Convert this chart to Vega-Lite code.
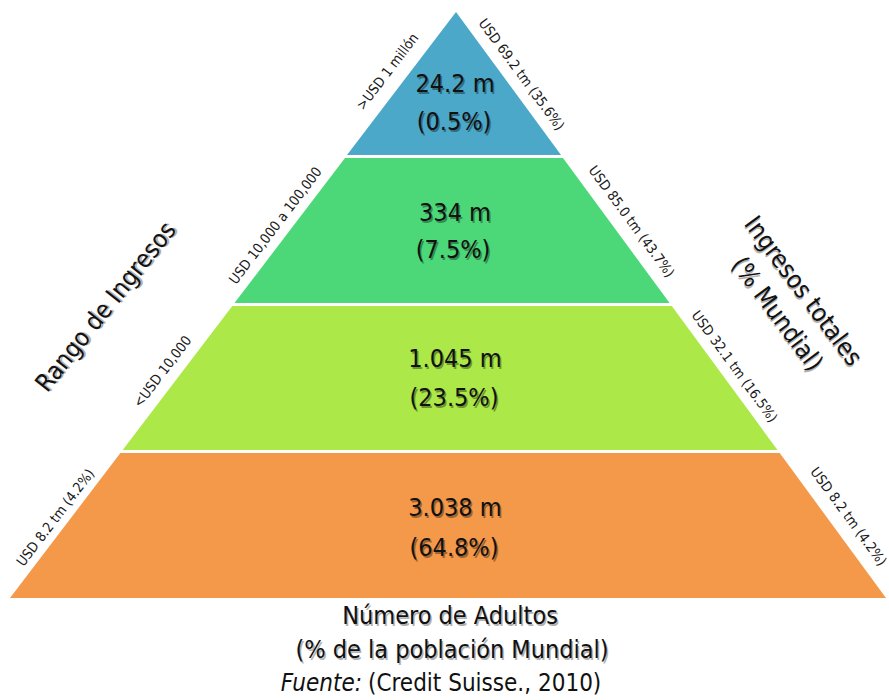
{
  "$schema": "https://vega.github.io/schema/vega-lite/v6.json",
  "width": 889,
  "height": 700,
  "autosize": {"type": "fit", "contains": "padding"},
  "padding": 0,
  "background": "white",
  "config": {"view": {"stroke": null}},
  "datasets": {
    "niveles": [
      {"nivel": ">USD 1 millón", "y": 12, "xl": 456, "xr": 456},
      {"nivel": ">USD 1 millón", "y": 155, "xl": 347, "xr": 561},
      {"nivel": "USD 10,000 a 100,000", "y": 158, "xl": 345, "xr": 563},
      {"nivel": "USD 10,000 a 100,000", "y": 303, "xl": 234.5, "xr": 669.6},
      {"nivel": "<USD 10,000", "y": 306, "xl": 232.3, "xr": 671.8},
      {"nivel": "<USD 10,000", "y": 450, "xl": 122.7, "xr": 777.5},
      {"nivel": "base", "y": 453, "xl": 120.4, "xr": 779.7},
      {"nivel": "base", "y": 598, "xl": 10, "xr": 886}
    ],
    "textos": [
      {"rol": "cifra", "x": 455, "y": 84, "texto": "24.2 m"},
      {"rol": "cifra", "x": 454, "y": 122, "texto": "(0.5%)"},
      {"rol": "cifra", "x": 455, "y": 213, "texto": "334 m"},
      {"rol": "cifra", "x": 453, "y": 250, "texto": "(7.5%)"},
      {"rol": "cifra", "x": 455, "y": 359, "texto": "1.045 m"},
      {"rol": "cifra", "x": 454, "y": 398, "texto": "(23.5%)"},
      {"rol": "cifra", "x": 455, "y": 508, "texto": "3.038 m"},
      {"rol": "cifra", "x": 454, "y": 548, "texto": "(64.8%)"},
      {"rol": "rango", "x": 388, "y": 72, "texto": ">USD 1 millón"},
      {"rol": "rango", "x": 276, "y": 226, "texto": "USD 10,000 a 100,000"},
      {"rol": "rango", "x": 163, "y": 372, "texto": "<USD 10,000"},
      {"rol": "rango", "x": 56, "y": 518, "texto": "USD 8.2 tm (4.2%)"},
      {"rol": "riqueza", "x": 521, "y": 75, "texto": "USD 69.2 tm (35.6%)"},
      {"rol": "riqueza", "x": 631, "y": 222, "texto": "USD 85.0 tm (43.7%)"},
      {"rol": "riqueza", "x": 734, "y": 367, "texto": "USD 32.1 tm (16.5%)"},
      {"rol": "riqueza", "x": 848, "y": 517, "texto": "USD 8.2 tm (4.2%)"},
      {"rol": "tituloIzq", "x": 106, "y": 307, "texto": "Rango de Ingresos"},
      {"rol": "tituloDer", "x": 803, "y": 291, "texto": "Ingresos totales"},
      {"rol": "tituloDer", "x": 777, "y": 314, "texto": "(% Mundial)"},
      {"rol": "pie", "x": 450, "y": 616, "texto": "Número de Adultos"},
      {"rol": "pie", "x": 452, "y": 650, "texto": "(% de la población Mundial)"},
      {"rol": "fuenteIt", "x": 362, "y": 684, "texto": "Fuente:"},
      {"rol": "fuente", "x": 368, "y": 684, "texto": "(Credit Suisse., 2010)"}
    ]
  },
  "layer": [
    {
      "data": {"name": "niveles"},
      "mark": {"type": "area", "orient": "horizontal", "interpolate": "linear", "opacity": 1},
      "encoding": {
        "y": {"field": "y", "type": "quantitative", "scale": {"domain": [0, 700], "reverse": true, "nice": false, "zero": false}, "axis": null},
        "x": {"field": "xl", "type": "quantitative", "stack": null, "scale": {"domain": [0, 889], "nice": false, "zero": false}, "axis": null},
        "x2": {"field": "xr"},
        "color": {
          "field": "nivel", "type": "nominal", "legend": null,
          "scale": {"domain": [">USD 1 millón", "USD 10,000 a 100,000", "<USD 10,000", "base"], "range": ["#4ba8c8", "#4cd879", "#ace848", "#f4984a"]}
        }
      }
    },
    {
      "data": {"name": "textos"},
      "transform": [{"filter": "datum.rol === 'cifra'"}],
      "mark": {"type": "text", "font": "DejaVu Sans Condensed, DejaVu Sans, sans-serif", "fontSize": 25, "align": "center", "baseline": "middle", "fill": "#000000", "opacity": 0.35, "dx": 1.5, "dy": 1.5},
      "encoding": {
        "x": {"field": "x", "type": "quantitative", "scale": {"domain": [0, 889], "nice": false, "zero": false}, "axis": null},
        "y": {"field": "y", "type": "quantitative", "scale": {"domain": [0, 700], "reverse": true, "nice": false, "zero": false}, "axis": null},
        "text": {"field": "texto"}
      }
    },
    {
      "data": {"name": "textos"},
      "transform": [{"filter": "datum.rol === 'cifra'"}],
      "mark": {"type": "text", "font": "DejaVu Sans Condensed, DejaVu Sans, sans-serif", "fontSize": 25, "align": "center", "baseline": "middle", "fill": "#111111"},
      "encoding": {
        "x": {"field": "x", "type": "quantitative", "scale": {"domain": [0, 889], "nice": false, "zero": false}, "axis": null},
        "y": {"field": "y", "type": "quantitative", "scale": {"domain": [0, 700], "reverse": true, "nice": false, "zero": false}, "axis": null},
        "text": {"field": "texto"}
      }
    },
    {
      "data": {"name": "textos"},
      "transform": [{"filter": "datum.rol === 'rango'"}],
      "mark": {"type": "text", "font": "DejaVu Sans Condensed, DejaVu Sans, sans-serif", "fontSize": 14, "align": "center", "baseline": "middle", "angle": -52.7, "fill": "#1a1a1a"},
      "encoding": {
        "x": {"field": "x", "type": "quantitative", "scale": {"domain": [0, 889], "nice": false, "zero": false}, "axis": null},
        "y": {"field": "y", "type": "quantitative", "scale": {"domain": [0, 700], "reverse": true, "nice": false, "zero": false}, "axis": null},
        "text": {"field": "texto"}
      }
    },
    {
      "data": {"name": "textos"},
      "transform": [{"filter": "datum.rol === 'riqueza'"}],
      "mark": {"type": "text", "font": "DejaVu Sans Condensed, DejaVu Sans, sans-serif", "fontSize": 14, "align": "center", "baseline": "middle", "angle": 53.7, "fill": "#1a1a1a"},
      "encoding": {
        "x": {"field": "x", "type": "quantitative", "scale": {"domain": [0, 889], "nice": false, "zero": false}, "axis": null},
        "y": {"field": "y", "type": "quantitative", "scale": {"domain": [0, 700], "reverse": true, "nice": false, "zero": false}, "axis": null},
        "text": {"field": "texto"}
      }
    },
    {
      "data": {"name": "textos"},
      "transform": [{"filter": "datum.rol === 'tituloIzq'"}],
      "mark": {"type": "text", "font": "DejaVu Sans Condensed, DejaVu Sans, sans-serif", "fontSize": 25, "align": "center", "baseline": "middle", "angle": -51.5, "fill": "#000000", "opacity": 0.3, "dx": 1.5, "dy": 1.5},
      "encoding": {
        "x": {"field": "x", "type": "quantitative", "scale": {"domain": [0, 889], "nice": false, "zero": false}, "axis": null},
        "y": {"field": "y", "type": "quantitative", "scale": {"domain": [0, 700], "reverse": true, "nice": false, "zero": false}, "axis": null},
        "text": {"field": "texto"}
      }
    },
    {
      "data": {"name": "textos"},
      "transform": [{"filter": "datum.rol === 'tituloIzq'"}],
      "mark": {"type": "text", "font": "DejaVu Sans Condensed, DejaVu Sans, sans-serif", "fontSize": 25, "align": "center", "baseline": "middle", "angle": -51.5, "fill": "#111111"},
      "encoding": {
        "x": {"field": "x", "type": "quantitative", "scale": {"domain": [0, 889], "nice": false, "zero": false}, "axis": null},
        "y": {"field": "y", "type": "quantitative", "scale": {"domain": [0, 700], "reverse": true, "nice": false, "zero": false}, "axis": null},
        "text": {"field": "texto"}
      }
    },
    {
      "data": {"name": "textos"},
      "transform": [{"filter": "datum.rol === 'tituloDer'"}],
      "mark": {"type": "text", "font": "DejaVu Sans Condensed, DejaVu Sans, sans-serif", "fontSize": 25, "align": "center", "baseline": "middle", "angle": 53.4, "fill": "#000000", "opacity": 0.3, "dx": 1.5, "dy": 1.5},
      "encoding": {
        "x": {"field": "x", "type": "quantitative", "scale": {"domain": [0, 889], "nice": false, "zero": false}, "axis": null},
        "y": {"field": "y", "type": "quantitative", "scale": {"domain": [0, 700], "reverse": true, "nice": false, "zero": false}, "axis": null},
        "text": {"field": "texto"}
      }
    },
    {
      "data": {"name": "textos"},
      "transform": [{"filter": "datum.rol === 'tituloDer'"}],
      "mark": {"type": "text", "font": "DejaVu Sans Condensed, DejaVu Sans, sans-serif", "fontSize": 25, "align": "center", "baseline": "middle", "angle": 53.4, "fill": "#111111"},
      "encoding": {
        "x": {"field": "x", "type": "quantitative", "scale": {"domain": [0, 889], "nice": false, "zero": false}, "axis": null},
        "y": {"field": "y", "type": "quantitative", "scale": {"domain": [0, 700], "reverse": true, "nice": false, "zero": false}, "axis": null},
        "text": {"field": "texto"}
      }
    },
    {
      "data": {"name": "textos"},
      "transform": [{"filter": "datum.rol === 'pie'"}],
      "mark": {"type": "text", "font": "DejaVu Sans Condensed, DejaVu Sans, sans-serif", "fontSize": 25, "align": "center", "baseline": "middle", "fill": "#000000", "opacity": 0.3, "dx": 1.5, "dy": 1.5},
      "encoding": {
        "x": {"field": "x", "type": "quantitative", "scale": {"domain": [0, 889], "nice": false, "zero": false}, "axis": null},
        "y": {"field": "y", "type": "quantitative", "scale": {"domain": [0, 700], "reverse": true, "nice": false, "zero": false}, "axis": null},
        "text": {"field": "texto"}
      }
    },
    {
      "data": {"name": "textos"},
      "transform": [{"filter": "datum.rol === 'pie'"}],
      "mark": {"type": "text", "font": "DejaVu Sans Condensed, DejaVu Sans, sans-serif", "fontSize": 25, "align": "center", "baseline": "middle", "fill": "#111111"},
      "encoding": {
        "x": {"field": "x", "type": "quantitative", "scale": {"domain": [0, 889], "nice": false, "zero": false}, "axis": null},
        "y": {"field": "y", "type": "quantitative", "scale": {"domain": [0, 700], "reverse": true, "nice": false, "zero": false}, "axis": null},
        "text": {"field": "texto"}
      }
    },
    {
      "data": {"name": "textos"},
      "transform": [{"filter": "datum.rol === 'fuenteIt'"}],
      "mark": {"type": "text", "font": "DejaVu Sans Condensed, DejaVu Sans, sans-serif", "fontSize": 24, "fontStyle": "italic", "align": "right", "baseline": "middle", "fill": "#111111"},
      "encoding": {
        "x": {"field": "x", "type": "quantitative", "scale": {"domain": [0, 889], "nice": false, "zero": false}, "axis": null},
        "y": {"field": "y", "type": "quantitative", "scale": {"domain": [0, 700], "reverse": true, "nice": false, "zero": false}, "axis": null},
        "text": {"field": "texto"}
      }
    },
    {
      "data": {"name": "textos"},
      "transform": [{"filter": "datum.rol === 'fuente'"}],
      "mark": {"type": "text", "font": "DejaVu Sans Condensed, DejaVu Sans, sans-serif", "fontSize": 24, "align": "left", "baseline": "middle", "fill": "#111111"},
      "encoding": {
        "x": {"field": "x", "type": "quantitative", "scale": {"domain": [0, 889], "nice": false, "zero": false}, "axis": null},
        "y": {"field": "y", "type": "quantitative", "scale": {"domain": [0, 700], "reverse": true, "nice": false, "zero": false}, "axis": null},
        "text": {"field": "texto"}
      }
    }
  ]
}
